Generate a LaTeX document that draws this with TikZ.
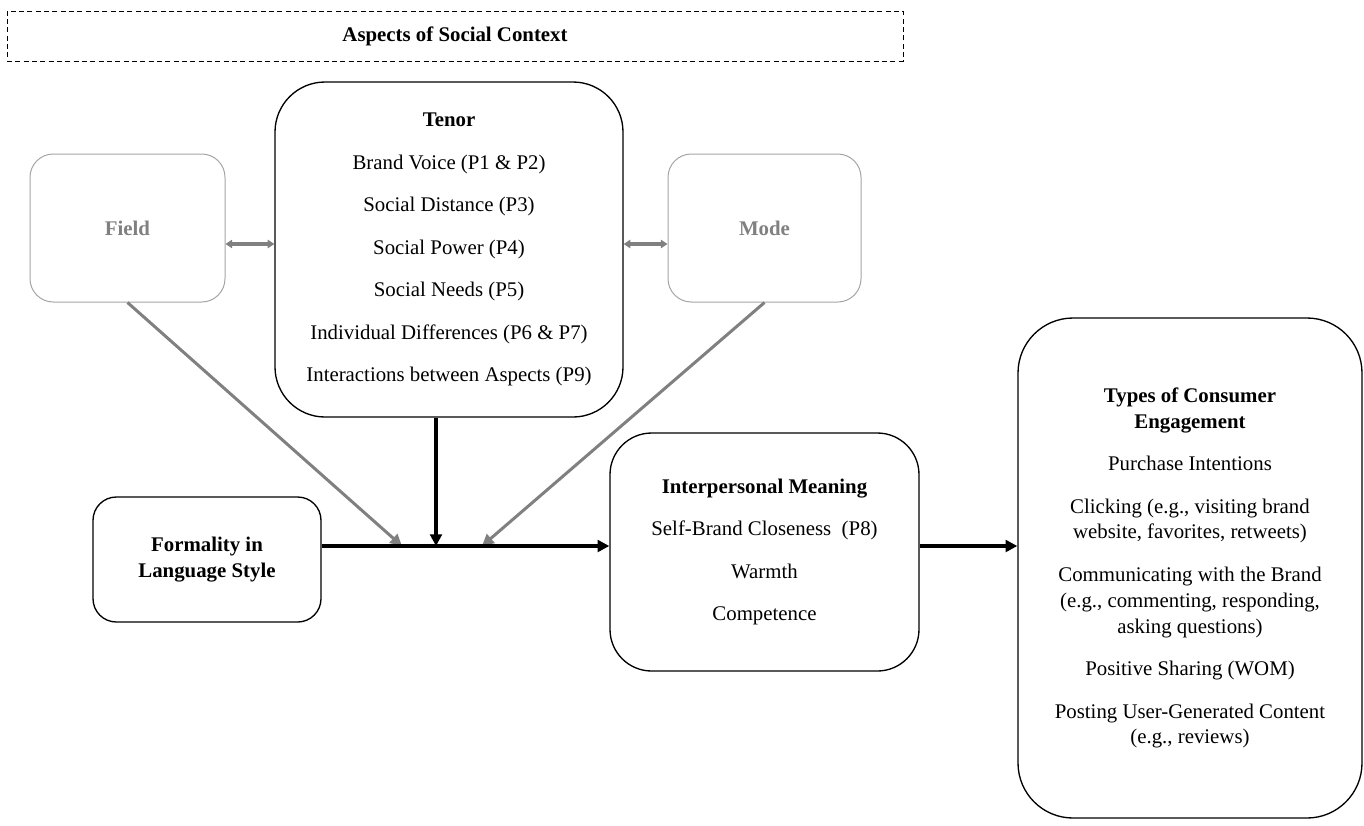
\documentclass[tikz,border=0pt]{standalone}
\usepackage{fontspec}
\setmainfont{Liberation Serif}
\usetikzlibrary{arrows.meta}
\definecolor{aspgray}{RGB}{128,128,128}
\definecolor{boxgray}{RGB}{165,165,165}
\newcommand{\arw}{-{Triangle[length=7pt,width=7pt]}}
\newcommand{\darw}{{Triangle[length=4pt,width=5pt]}-{Triangle[length=4pt,width=5pt]}}

\begin{document}
\begin{tikzpicture}[x=0.6pt,y=-0.6pt,
  box/.style={draw,line width=0.8pt,align=center,font=\fontsize{12.5}{15.5}\selectfont},
  grey box/.style={box,draw=boxgray,line width=0.6pt,text=aspgray,font=\fontsize{12.5}{15.5}\selectfont\bfseries}]
\useasboundingbox (0,0) rectangle (1364,825);
%aspects of social context
\node[box,line width=0.6pt,dash pattern=on 3pt off 2pt,minimum width=537.6pt,minimum height=30pt] (ctx) at (455,36) {\textbf{Aspects of Social Context}};
\node[grey box,rounded corners=14pt,minimum width=117pt,minimum height=88.8pt] (field) at (127.5,228) {Field};
\node[box,rounded corners=30pt,minimum width=208.8pt,minimum height=201pt] (tenor) at (449,249.5) {\textbf{Tenor}\\[10pt]
  Brand Voice (P1 \& P2)\\[10pt]
  Social Distance (P3)\\[10pt]
  Social Power (P4)\\[10pt]
  Social Needs (P5)\\[10pt]
  Individual Differences (P6 \& P7)\\[10pt]
  Interactions between Aspects (P9)};
\node[grey box,rounded corners=14pt,minimum width=115.8pt,minimum height=88.8pt] (mode) at (764.5,228) {Mode};
%language style and meaning
\node[box,rounded corners=14pt,minimum width=136.8pt,minimum height=75pt] (formality) at (207,559.5) {\textbf{Formality in}\\\textbf{Language Style}};
\node[box,rounded corners=25pt,minimum width=185.4pt,minimum height=142.8pt] (inter) at (764.5,552) {\textbf{Interpersonal Meaning}\\[10pt]
  Self-Brand Closeness \ (P8)\\[10pt]
  Warmth\\[10pt]
  Competence};
\node[box,rounded corners=33pt,minimum width=206.4pt,minimum height=300pt] (types) at (1190,568) {\textbf{Types of Consumer}\\\textbf{Engagement}\\[10pt]
  Purchase Intentions\\[10pt]
  Clicking (e.g., visiting brand\\website, favorites, retweets)\\[10pt]
  Communicating with the Brand\\(e.g., commenting, responding,\\asking questions)\\[10pt]
  Positive Sharing (WOM)\\[10pt]
  Posting User-Generated Content\\(e.g., reviews)};
\coordinate (hub) at (436,546);
\coordinate (fieldtip) at (402,546);
\coordinate (modetip) at (482,546);
\coordinate (link) at (449,244);
%arrows
\draw[aspgray,line width=2.4pt,\darw] (field.east |- link) -- (tenor.west |- link);
\draw[aspgray,line width=2.4pt,\darw] (tenor.east |- link) -- (mode.west |- link);
\draw[aspgray,line width=1.8pt,\arw] (field.south) -- (fieldtip);
\draw[aspgray,line width=1.8pt,\arw] (mode.south) -- (modetip);
\draw[line width=2.4pt,\arw] (tenor.south -| hub) -- (hub);
\draw[line width=2.4pt,\arw] (formality.east |- hub) -- (inter.west |- hub);
\draw[line width=2.4pt,\arw] (inter.east |- hub) -- (types.west |- hub);
\end{tikzpicture}
\end{document}
